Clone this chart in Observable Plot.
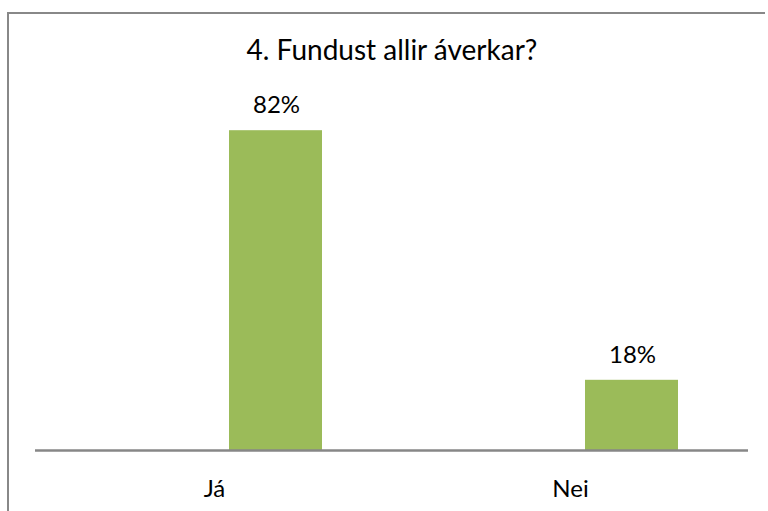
<!DOCTYPE html>
<html>
<head>
<meta charset="utf-8">
<script src="https://cdn.jsdelivr.net/npm/d3@7"></script>
<script src="https://cdn.jsdelivr.net/npm/@observablehq/plot@0.6"></script>
<style>
  html, body { margin: 0; padding: 0; background: #fff; overflow: hidden; }
  #wrap { position: relative; width: 768px; height: 511px; overflow: hidden; font-family: Lato, "Open Sans", sans-serif; }
  #hline { position: absolute; left: 7px; top: 12px; width: 758px; height: 2px; background: #888; }
  #vline { position: absolute; left: 7px; top: 12px; width: 2px; height: 499px; background: #888; }
  #title { position: absolute; left: 0; width: 784px; top: 32px; text-align: center; font-size: 28px; color: #000; }
  #chart { position: absolute; left: 0; top: 0; }
</style>
</head>
<body>
<div id="wrap">
  <div id="hline"></div>
  <div id="vline"></div>
  <div id="title">4. Fundust allir  áverkar?</div>
  <div id="chart"></div>
</div>
<script>
const categories = ["Já", "Nei"];
const values = [82, 18];
const valueLabels = ["82%", "18%"];

const data = categories.map((c, i) => ({cat: c, value: values[i], label: valueLabels[i]}));

const chart = Plot.plot({
  width: 768,
  height: 511,
  marginTop: 60,
  marginBottom: 61,
  marginLeft: 35,
  marginRight: 20,
  style: {background: "transparent", fontFamily: "Lato, 'Open Sans', sans-serif", fontSize: "24px", color: "#000"},
  x: {domain: categories, padding: 0, label: null},
  y: {domain: [0, 100], axis: null},
  marks: [
    Plot.barY(data, {x: "cat", y: "value", fill: "#9BBB59", insetLeft: 193, insetRight: 70}),
    Plot.text(data, {x: "cat", y: "value", text: "label", dx: 62, dy: -25, fontSize: 24, fill: "#000"}),
    Plot.ruleY([0], {stroke: "#878787", strokeWidth: 2.5}),
    Plot.axisX({tickSize: 0, tickPadding: 29, fontSize: 24, fill: "#000", label: null})
  ]
});
document.getElementById("chart").appendChild(chart);
</script>
</body>
</html>
